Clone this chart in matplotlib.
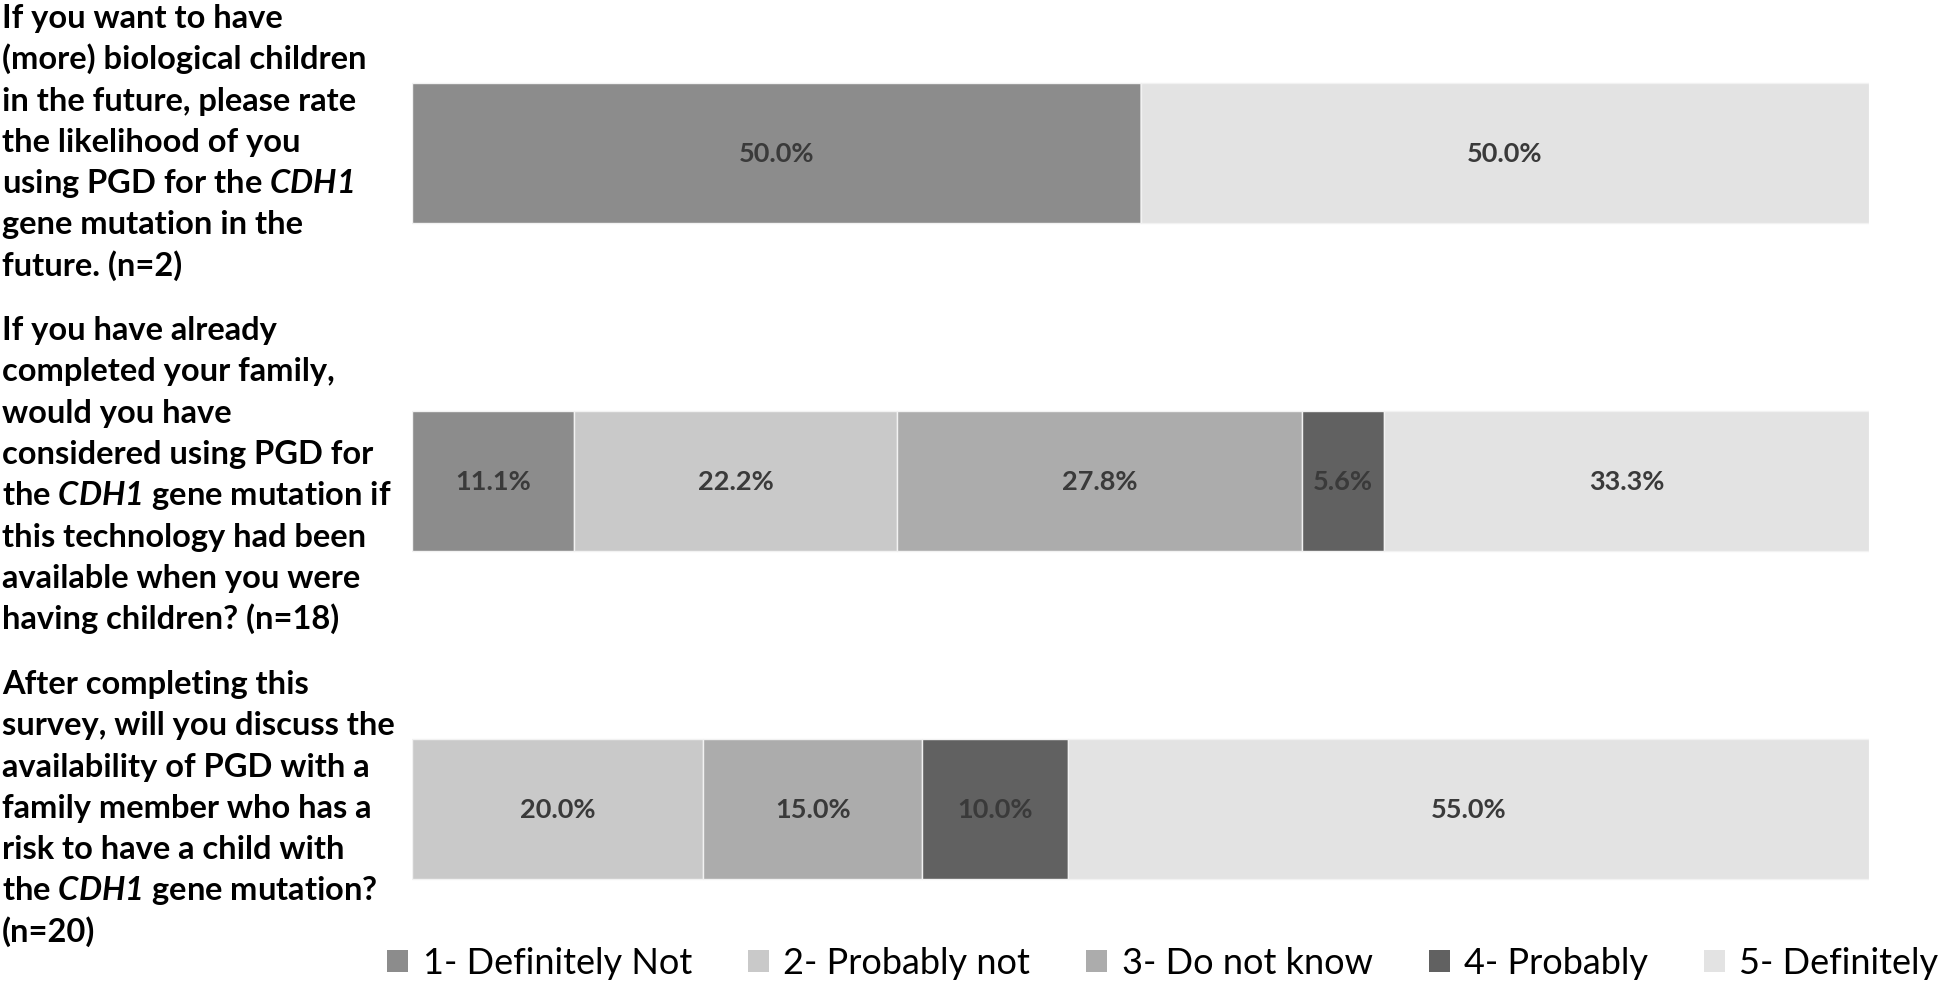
import matplotlib
matplotlib.use("Agg")
import matplotlib.pyplot as plt
from matplotlib.patches import Patch

plt.rcParams['font.family'] = ['Lato', 'DejaVu Sans']
plt.rcParams['mathtext.fontset'] = 'custom'
plt.rcParams['mathtext.it'] = 'Lato:italic:bold'
plt.rcParams['mathtext.rm'] = 'Lato:italic:bold'
plt.rcParams['mathtext.bf'] = 'Lato:italic:bold'

# ---- data ----
questions = [
    "If you want to have\n(more) biological children\nin the future, please rate\nthe likelihood of you\n"
    "using PGD for the $CDH1$\ngene mutation in the\nfuture. (n=2)",
    "If you have already\ncompleted your family,\nwould you have\nconsidered using PGD for\n"
    "the $CDH1$ gene mutation if\nthis technology had been\navailable when you were\nhaving children? (n=18)",
    "After completing this\nsurvey, will you discuss the\navailability of PGD with a\nfamily member who has a\n"
    "risk to have a child with\nthe $CDH1$ gene mutation?\n(n=20)",
]
categories = ["1- Definitely Not", "2- Probably not", "3- Do not know", "4- Probably", "5- Definitely"]
definitely_not = [50.0, 11.1, 0.0]
probably_not = [0.0, 22.2, 20.0]
do_not_know = [0.0, 27.8, 15.0]
probably = [0.0, 5.6, 10.0]
definitely = [50.0, 33.3, 55.0]
series = [definitely_not, probably_not, do_not_know, probably, definitely]
colors = ["#8c8c8c", "#c9c9c9", "#acacac", "#616161", "#e3e3e3"]

W, H = 1944, 987
fig = plt.figure(figsize=(W / 100, H / 100), dpi=100)

# axes: pixel rows 0..900 from top
ax_top, ax_bot = 0, 900
ax = fig.add_axes([412 / W, (H - ax_bot) / H, (1869 - 412) / W, (ax_bot - ax_top) / H])
step = 328.0
c0 = 154.0
ax.set_ylim((ax_bot - c0) / step, (ax_top - c0) / step)
ax.set_xlim(0, 100)
ax.axis('off')

ypos = list(range(len(questions)))
left = [0.0] * len(questions)
for vals, col in zip(series, colors):
    ax.barh(ypos, vals, left=left, height=140 / step, color=col,
            edgecolor='#f2f2f2', linewidth=1.0)
    for y, v, l in zip(ypos, vals, left):
        if v > 0:
            ax.text(l + v / 2, y, f"{v:.1f}%", ha='center', va='center',
                    fontsize=19.5, fontweight='bold', color='#3a3a3a')
    left = [l + v for l, v in zip(left, vals)]

# question labels, one line at a time
first_baselines = [28, 340, 694]
line_step = 41.3
for q, b in zip(questions, first_baselines):
    for k, line in enumerate(q.split("\n")):
        y = b + k * line_step
        fig.text(2 / W, 1 - y / H, line, ha='left', va='baseline',
                 fontsize=23.5, fontweight='bold', color='black')

handles = [Patch(facecolor=c, edgecolor='none') for c in colors]
fig.legend(handles, categories, loc='center', bbox_to_anchor=(1163 / W, 1 - 964 / H),
           ncol=5, frameon=False, handlelength=0.58, handleheight=0.58,
           handletextpad=0.4, columnspacing=1.55, borderpad=0, borderaxespad=0,
           prop={'size': 26})

fig.savefig("out.png", dpi=100, facecolor='white')
